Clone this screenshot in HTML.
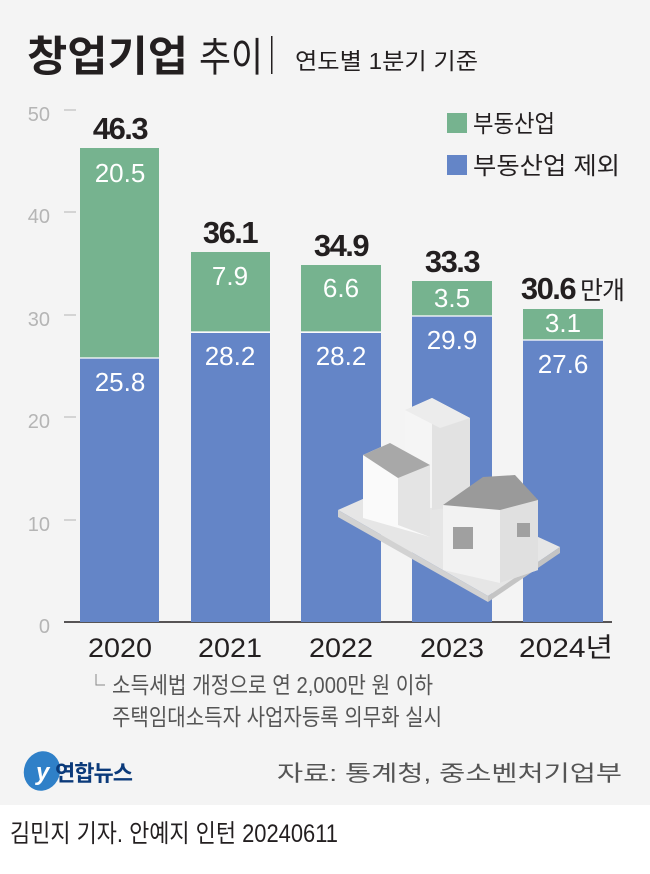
<!DOCTYPE html>
<html><head><meta charset="utf-8"><style>
body{margin:0;width:650px;height:869px;overflow:hidden;background:#fff;font-family:"Liberation Sans","Noto Sans CJK KR",sans-serif}
</style></head><body>
<svg width="650" height="869" xmlns="http://www.w3.org/2000/svg" style="font-family:'Liberation Sans','Noto Sans CJK KR',sans-serif">
<rect x="0" y="0" width="650" height="805" fill="#f4f4f4"/>
<text x="27" y="71" font-size="42" font-weight="bold" fill="#231f20" textLength="161" lengthAdjust="spacingAndGlyphs">창업기업</text>
<text x="199" y="71" font-size="40" fill="#231f20" textLength="64" lengthAdjust="spacingAndGlyphs">추이</text>
<rect x="271" y="36" width="1.5" height="38" fill="#231f20"/>
<text x="295" y="69" font-size="23" fill="#231f20" textLength="183" lengthAdjust="spacingAndGlyphs">연도별 1분기 기준</text>
<g font-size="20" fill="#b5b5b5" text-anchor="end">
<text x="50" y="121">50</text><text x="50" y="223">40</text><text x="50" y="326">30</text>
<text x="50" y="428">20</text><text x="50" y="531">10</text><text x="50" y="633">0</text></g>
<g stroke="#b5b5b5" stroke-width="1"><line x1="64" y1="110" x2="76" y2="110"/><line x1="64" y1="212" x2="76" y2="212"/><line x1="64" y1="315" x2="76" y2="315"/><line x1="64" y1="417" x2="76" y2="417"/><line x1="64" y1="520" x2="76" y2="520"/></g>
<line x1="64" y1="622" x2="612" y2="622" stroke="#231f20" stroke-width="1.5"/>
<g fill="#76b38f">
<rect x="80" y="148" width="79" height="210"/><rect x="191" y="252" width="79" height="80"/>
<rect x="301" y="265" width="80" height="67"/><rect x="412" y="281" width="80" height="35"/>
<rect x="523" y="309" width="80" height="31"/></g>
<g fill="#6485c7">
<rect x="80" y="358" width="79" height="264"/><rect x="191" y="333" width="79" height="289"/>
<rect x="301" y="333" width="80" height="289"/><rect x="412" y="316" width="80" height="306"/>
<rect x="523" y="340" width="80" height="282"/></g>
<g stroke="#fff" stroke-width="1.2"><line x1="80" y1="358" x2="159" y2="358"/><line x1="191" y1="332" x2="270" y2="332"/><line x1="301" y1="332" x2="381" y2="332"/><line x1="412" y1="316" x2="492" y2="316"/><line x1="523" y1="340" x2="603" y2="340"/></g>
<g fill="#fff" font-size="26" text-anchor="middle">
<text x="120" y="182">20.5</text><text x="230" y="285">7.9</text><text x="341" y="297">6.6</text><text x="452" y="307">3.5</text><text x="563" y="332">3.1</text>
<text x="120" y="391">25.8</text><text x="230" y="365">28.2</text><text x="341" y="365">28.2</text><text x="452" y="349">29.9</text><text x="563" y="373">27.6</text></g>
<g fill="#231f20" font-size="31" font-weight="bold" text-anchor="middle" letter-spacing="-1.5">
<text x="120" y="139">46.3</text><text x="230" y="243">36.1</text><text x="341" y="256">34.9</text><text x="452" y="272">33.3</text><text x="548" y="299">30.6</text></g>
<text x="580" y="299" font-size="25" fill="#231f20" letter-spacing="-1">만개</text>
<rect x="447" y="113" width="20" height="20" fill="#76b38f"/><text x="473" y="132" font-size="24" fill="#231f20" textLength="82" lengthAdjust="spacingAndGlyphs">부동산업</text>
<rect x="447" y="155" width="20" height="20" fill="#6485c7"/><text x="473" y="174" font-size="24" fill="#231f20" textLength="147" lengthAdjust="spacingAndGlyphs">부동산업 제외</text>
<!-- buildings -->
<polygon points="338,510 410,478 560,547 488,596" fill="#e6e6e6"/>
<polygon points="338,510 488,596 488,602 338,517" fill="#d2d2d2"/>
<polygon points="488,596 560,547 560,553 488,602" fill="#c4c4c4"/>
<polygon points="405,410 432,398 470,418 470,505 405,510" fill="#f5f5f5"/>
<polygon points="432,420 470,418 470,505 432,510" fill="#e2e2e2"/>
<polygon points="405,410 432,398 470,418 440,428" fill="#ececec"/>
<polygon points="363,455 390,443 430,465 430,537 363,518" fill="#fafafa"/>
<polygon points="398,470 430,465 430,537 398,525" fill="#e4e4e4"/>
<polygon points="363,455 390,443 430,465 398,478" fill="#a8a8a8"/>
<polygon points="443,505 500,480 538,500 538,570 500,583 443,570" fill="#f2f2f2"/>
<polygon points="500,505 538,500 538,570 500,583" fill="#e0e0e0"/>
<polygon points="443,505 483,477 515,475 538,500 500,510" fill="#9a9a9a"/>
<rect x="453" y="527" width="20" height="22" fill="#a0a0a0"/>
<rect x="517" y="523" width="13" height="14" fill="#a0a0a0"/>
<g font-size="27" fill="#231f20" text-anchor="middle">
<text x="120" y="657" textLength="64" lengthAdjust="spacingAndGlyphs">2020</text><text x="230" y="657" textLength="64" lengthAdjust="spacingAndGlyphs">2021</text><text x="341" y="657" textLength="64" lengthAdjust="spacingAndGlyphs">2022</text><text x="452" y="657" textLength="64" lengthAdjust="spacingAndGlyphs">2023</text><text x="566" y="657" textLength="94" lengthAdjust="spacingAndGlyphs">2024년</text></g>
<polyline points="96,674 96,685 105,685" fill="none" stroke="#888" stroke-width="1"/>
<text x="112" y="693" font-size="23" fill="#555" textLength="321" lengthAdjust="spacingAndGlyphs">소득세법 개정으로 연 2,000만 원 이하</text>
<text x="112" y="725" font-size="23" fill="#555" textLength="330" lengthAdjust="spacingAndGlyphs">주택임대소득자 사업자등록 의무화 실시</text>
<ellipse cx="42" cy="771" rx="18" ry="20" fill="#2f80c8" transform="rotate(20 42 771)"/>
<text x="36" y="780" font-size="24" fill="#fff" font-style="italic" font-weight="bold">y</text>
<text x="55" y="781" font-size="22" font-weight="bold" fill="#0b3a7a" letter-spacing="-1">연합뉴스</text>
<text x="622" y="781" font-size="22" fill="#555" text-anchor="end" textLength="345" lengthAdjust="spacingAndGlyphs">자료: 통계청, 중소벤처기업부</text>
<text x="10" y="842" font-size="25" fill="#231f20" textLength="328" lengthAdjust="spacingAndGlyphs">김민지 기자. 안예지 인턴  20240611</text>
</svg>
</body></html>
